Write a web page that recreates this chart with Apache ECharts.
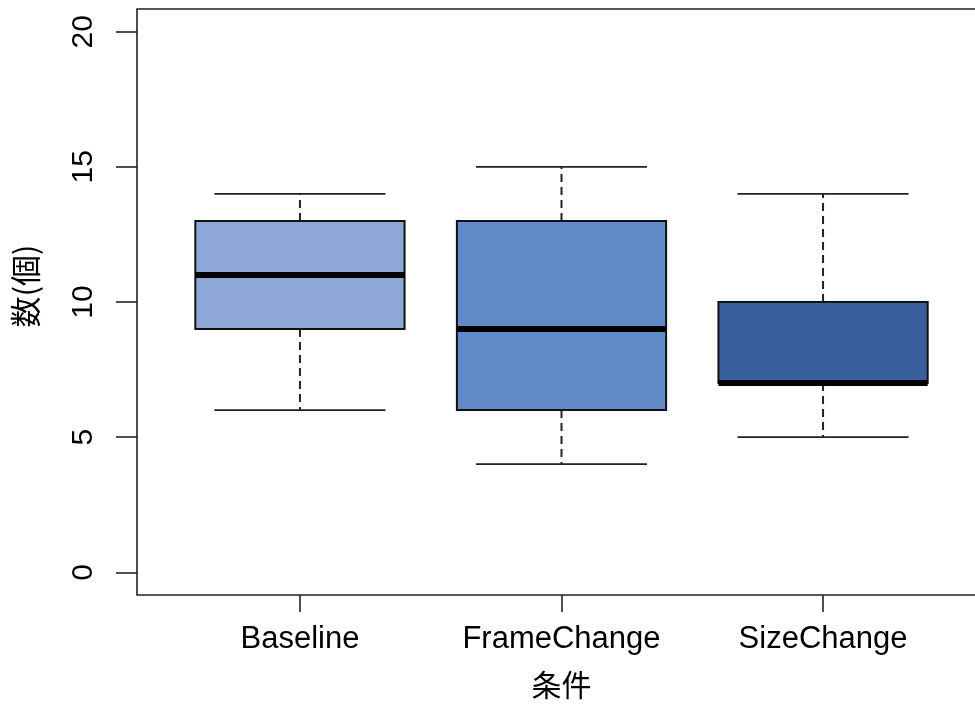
<!DOCTYPE html>
<html>
<head>
<meta charset="utf-8">
<script src="https://cdn.jsdelivr.net/npm/echarts@6/dist/echarts.min.js"></script>
<style>
html,body{margin:0;padding:0;background:#fff;}
#chart{width:975px;height:704px;}
</style>
</head>
<body>
<div id="chart"></div>
<script>
// categories and five-number summaries (low whisker, Q1, median, Q3, high whisker)
var categories = ['Baseline', 'FrameChange', 'SizeChange'];
var whiskerLow = [6, 4, 5];
var q1 = [9, 6, 7];
var median = [11, 9, 7];
var q3 = [13, 13, 10];
var whiskerHigh = [14, 15, 14];
var yTicks = [0, 5, 10, 15, 20];
var xTicks = [1, 2, 3];

var boxColors = ['#8EA8D8', '#638AC8', '#3A5F9F'];

var data = categories.map(function (c, i) {
  return [i + 1, whiskerLow[i], q1[i], median[i], q3[i], whiskerHigh[i]];
});

var chart = echarts.init(document.getElementById('chart'));

var sansFont = '"Liberation Sans", Arial, sans-serif';
var cjkFont = '"Noto Sans CJK JP", "Noto Sans CJK SC", sans-serif';

chart.setOption({
  animation: false,
  grid: {
    left: 137, width: 849, top: 9, height: 586,
    outerBoundsMode: 'none', containLabel: false,
    show: true, borderColor: '#222', borderWidth: 1.6, backgroundColor: 'transparent'
  },
  xAxis: {
    type: 'value', min: 0.377, max: 3.623,
    splitLine: { show: false },
    axisLine: { show: false, onZero: false },
    axisTick: { show: true, customValues: xTicks, length: 17, lineStyle: { color: '#222', width: 1.6 } },
    axisLabel: {
      customValues: xTicks, margin: 29, color: '#000',
      fontSize: 31, fontFamily: sansFont,
      formatter: function (v) { return categories[Math.round(v) - 1] || ''; }
    },
    name: '条件', nameLocation: 'middle', nameGap: 75,
    nameTextStyle: { fontSize: 30, color: '#000', fontFamily: cjkFont }
  },
  yAxis: {
    type: 'value', min: -0.84, max: 20.84,
    splitLine: { show: false },
    axisLine: { show: false, onZero: false },
    axisTick: { show: true, customValues: yTicks, length: 21, lineStyle: { color: '#222', width: 1.6 } },
    axisLabel: {
      customValues: yTicks, rotate: 90, margin: 38, color: '#000',
      fontSize: 30, fontFamily: sansFont
    },
    name: '数(個)', nameLocation: 'middle', nameGap: 96, nameRotate: 90,
    nameTextStyle: { fontSize: 31, color: '#000', fontFamily: cjkFont, padding: [0, 0, 0, 32] }
  },
  series: [{
    type: 'custom',
    data: data,
    encode: { x: 0, y: [1, 2, 3, 4, 5] },
    renderItem: function (params, api) {
      var idx = params.dataIndex;
      var x = api.value(0);
      var boxHalf = api.size([0.4, 0])[0];
      var capHalf = api.size([0.327, 0])[0];
      var pLow = api.coord([x, api.value(1)]);
      var pQ1 = api.coord([x, api.value(2)]);
      var pMed = api.coord([x, api.value(3)]);
      var pQ3 = api.coord([x, api.value(4)]);
      var pHigh = api.coord([x, api.value(5)]);
      var cx = pMed[0];
      var dashStyle = { stroke: '#222', lineWidth: 2, lineDash: [8, 5], fill: null };
      var solid = { stroke: '#222', lineWidth: 1.8, fill: null };
      return {
        type: 'group',
        children: [
          { type: 'line', shape: { x1: cx, y1: pQ3[1], x2: cx, y2: pHigh[1] }, style: dashStyle },
          { type: 'line', shape: { x1: cx, y1: pQ1[1], x2: cx, y2: pLow[1] }, style: dashStyle },
          { type: 'line', shape: { x1: cx - capHalf, y1: pHigh[1], x2: cx + capHalf, y2: pHigh[1] }, style: solid },
          { type: 'line', shape: { x1: cx - capHalf, y1: pLow[1], x2: cx + capHalf, y2: pLow[1] }, style: solid },
          { type: 'rect', shape: { x: cx - boxHalf, y: pQ3[1], width: boxHalf * 2, height: pQ1[1] - pQ3[1] },
            style: { fill: boxColors[idx], stroke: '#111', lineWidth: 2 } },
          { type: 'line', shape: { x1: cx - boxHalf, y1: pMed[1], x2: cx + boxHalf, y2: pMed[1] },
            style: { stroke: '#000', lineWidth: 6 } }
        ]
      };
    }
  }]
});
</script>
</body>
</html>
